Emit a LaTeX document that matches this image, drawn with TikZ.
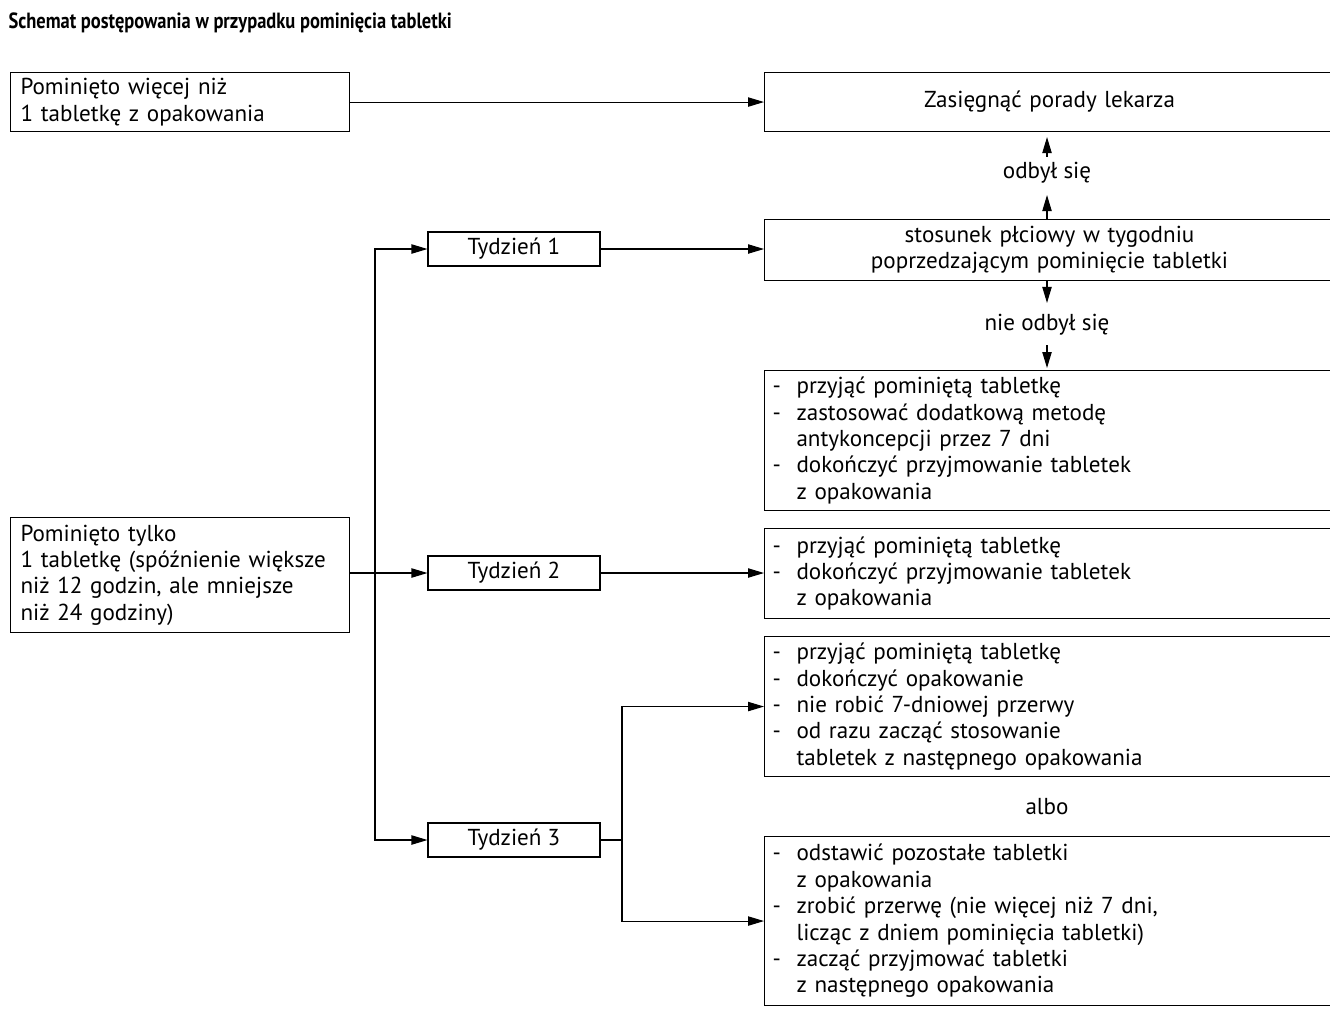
\documentclass[tikz,border=0pt]{standalone}
\usepackage{fontspec}
\setmainfont{PT Sans}
\newfontfamily\tytulfont[FakeStretch=0.84]{PT Sans}
\usetikzlibrary{arrows.meta}
\newcommand{\tekst}{\fontsize{17.3}{19.8}\selectfont}
\newcommand{\punkt}{\makebox[18pt][l]{-}}
\newcommand{\dalej}{\hspace*{18pt}}
\tikzset{
  ramka/.style={draw, font=\tekst, inner ysep=3pt},
  lewa/.style={ramka, anchor=north west, inner xsep=7.5pt, text width=239.25pt, align=left},
  prawa/.style={ramka, anchor=north west, inner xsep=6pt, text width=415.5pt, align=left},
  tydzien/.style={ramka, minimum width=129pt, minimum height=25.5pt, inner sep=0pt},
  opis/.style={font=\tekst, inner sep=0pt}
}
\begin{document}
\begin{tikzpicture}[x=0.75pt, y=-0.75pt, line width=0.8pt, >={Triangle[length=12pt,width=7pt]}]
  \useasboundingbox (0,0) rectangle (1330,1008);
  \node[anchor=base west, inner sep=0pt, font=\tytulfont\bfseries\fontsize{16.5}{19}\selectfont] (tytul) at (8,28)
    {Schemat postępowania w przypadku pominięcia tabletki};
  % lewa kolumna
  \node[lewa, minimum height=44.25pt] (wiecej) at (10,72) {Pominięto więcej niż\\1 tabletkę z opakowania};
  \node[lewa, minimum height=86.25pt] (jedna) at (10,517)
    {Pominięto tylko\\1 tabletkę (spóźnienie większe\\niż 12 godzin, ale mniejsze\\niż 24 godziny)};
  % tygodnie
  \node[tydzien] (tyg1) at (514,249) {Tydzień 1};
  \node[tydzien] (tyg2) at (514,573) {Tydzień 2};
  \node[tydzien] (tyg3) at (514,840) {Tydzień 3};
  % prawa kolumna
  \node[prawa, align=center, minimum height=44.25pt] (lekarz) at (764,72) {Zasięgnąć porady lekarza};
  \node[opis] (odbyl) at (1047,173) {odbył się};
  \node[prawa, align=center, minimum height=45.75pt] (stosunek) at (764,219)
    {stosunek płciowy w tygodniu\\poprzedzającym pominięcie tabletki};
  \node[opis] (nieodbyl) at (1047,325) {nie odbył się};
  \node[prawa, minimum height=105pt] (rada1) at (764,370)
    {\punkt przyjąć pominiętą tabletkę\\
     \punkt zastosować dodatkową metodę\\
     \dalej antykoncepcji przez 7 dni\\
     \punkt dokończyć przyjmowanie tabletek\\
     \dalej z opakowania};
  \node[prawa, minimum height=67.5pt] (rada2) at (764,528)
    {\punkt przyjąć pominiętą tabletkę\\
     \punkt dokończyć przyjmowanie tabletek\\
     \dalej z opakowania};
  \node[prawa, minimum height=105pt] (rada3a) at (764,636)
    {\punkt przyjąć pominiętą tabletkę\\
     \punkt dokończyć opakowanie\\
     \punkt nie robić 7-dniowej przerwy\\
     \punkt od razu zacząć stosowanie\\
     \dalej tabletek z następnego opakowania};
  \node[opis] (albo) at (1047,807) {albo};
  \node[prawa, minimum height=126.75pt] (rada3b) at (764,836)
    {\punkt odstawić pozostałe tabletki\\
     \dalej z opakowania\\
     \punkt zrobić przerwę (nie więcej niż 7 dni,\\
     \dalej licząc z dniem pominięcia tabletki)\\
     \punkt zacząć przyjmować tabletki\\
     \dalej z następnego opakowania};
  % strzalki
  \coordinate (pion) at (375,0);
  \coordinate (widelki) at (622,0);
  \draw[->] (wiecej) -- (lekarz);
  \draw[->, shorten <=3.75pt, shorten >=3.75pt] (odbyl.north) -- (odbyl.north |- lekarz.south);
  \draw[->, shorten >=8.25pt] (odbyl.south |- stosunek.north) -- (odbyl.south);
  \draw[->, shorten >=8.25pt] (nieodbyl.north |- stosunek.south) -- (nieodbyl.north);
  \draw[->, shorten <=6.75pt, shorten >=1.5pt] (nieodbyl.south) -- (nieodbyl.south |- rada1.north);
  \draw[<->] (tyg1) -- (pion |- tyg1) -- (pion |- tyg3) -- (tyg3);
  \draw[->] (jedna.east |- tyg2) -- (tyg2);
  \draw[->] (tyg1) -- (tyg1 -| stosunek.west);
  \draw[->] (tyg2) -- (tyg2 -| rada2.west);
  \draw (tyg3) -- (tyg3 -| widelki);
  \draw[<->] (rada3a.west) -- (widelki |- rada3a.west) -- (widelki |- rada3b.west) -- (rada3b.west);
\end{tikzpicture}
\end{document}
